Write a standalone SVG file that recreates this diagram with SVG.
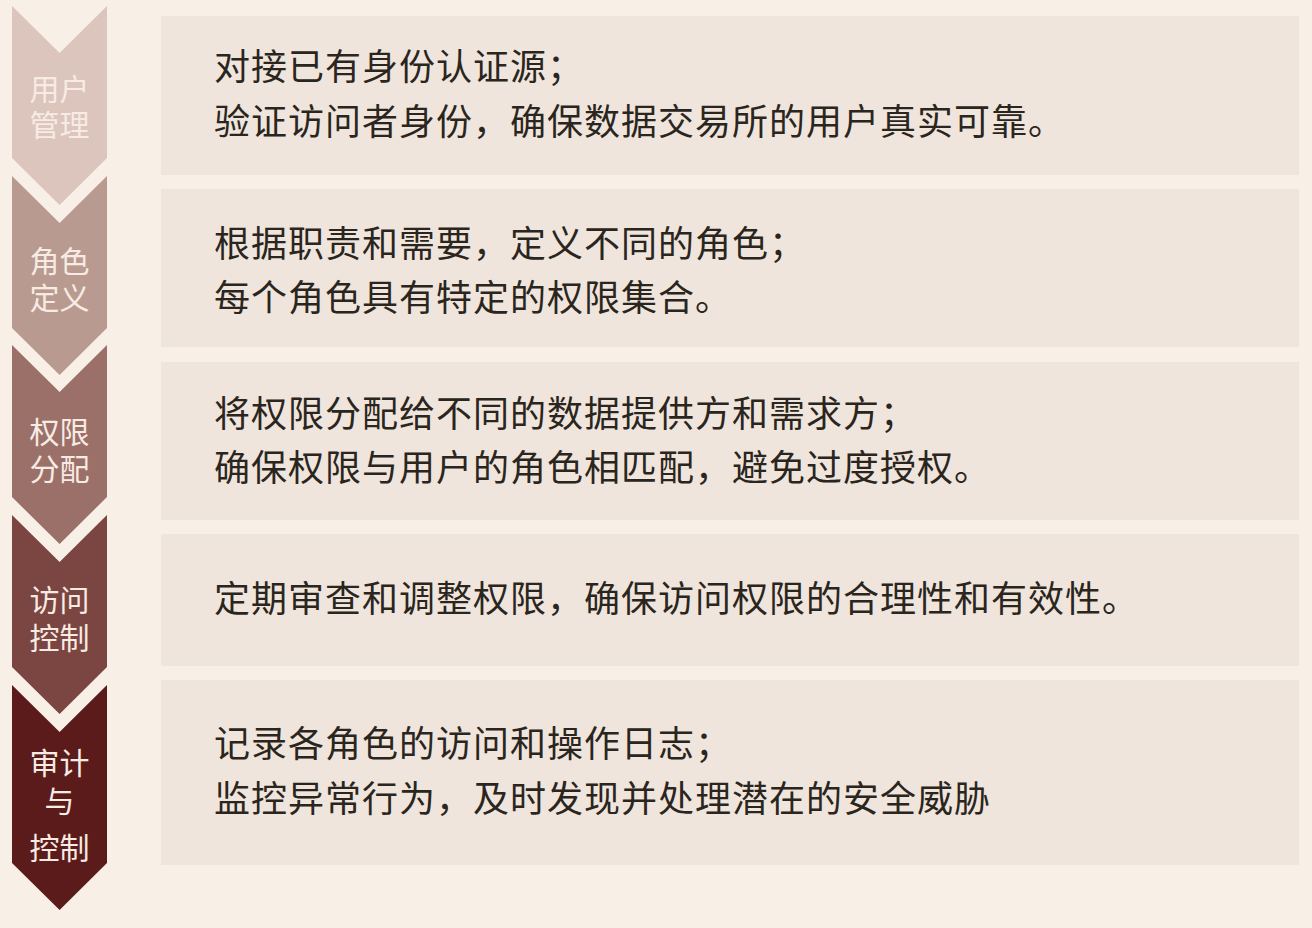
<svg xmlns="http://www.w3.org/2000/svg" width="1312" height="928" viewBox="0 0 1312 928">
<style>
.panel{fill:#efe5dc}
.body{font-family:"Noto Sans CJK SC","Noto Sans",sans-serif;font-size:36px;fill:#2b2520;letter-spacing:1px}
.lab{font-family:"Noto Sans CJK SC","Noto Sans",sans-serif;font-size:30px;fill:#f7ebe3;text-anchor:middle}
</style>
<rect x="0" y="0" width="1312" height="928" fill="#f8efe7"/>
<g id="step1">
<path d="M12,6 L59.6,53 L107,6 L107,158 L59.6,205 L12,158 Z" fill="#dbc5bd"/>
<text class="lab" x="59.6" y="100">用户</text>
<text class="lab" x="59.6" y="136">管理</text>
</g>
<g id="step2">
<path d="M12,176 L59.6,223 L107,176 L107,328 L59.6,375 L12,328 Z" fill="#b99a91"/>
<text class="lab" x="59.6" y="272">角色</text>
<text class="lab" x="59.6" y="309">定义</text>
</g>
<g id="step3">
<path d="M12,345 L59.6,392 L107,345 L107,497 L59.6,544 L12,497 Z" fill="#9b7069"/>
<text class="lab" x="59.6" y="443">权限</text>
<text class="lab" x="59.6" y="480">分配</text>
</g>
<g id="step4">
<path d="M12,515 L59.6,562 L107,515 L107,667 L59.6,714 L12,667 Z" fill="#7b4541"/>
<text class="lab" x="59.6" y="611">访问</text>
<text class="lab" x="59.6" y="649">控制</text>
</g>
<g id="step5">
<path d="M12,685 L59.6,732 L107,685 L107,863 L59.6,910 L12,863 Z" fill="#5c1b1b"/>
<text class="lab" x="59.6" y="774">审计</text>
<text class="lab" x="59.6" y="812">与</text>
<text class="lab" x="59.6" y="859">控制</text>
</g>
<g id="panel1">
<rect class="panel" x="161" y="16" width="1138" height="159"/>
<text class="body" x="214" y="80">对接已有身份认证源；</text>
<text class="body" x="214" y="135">验证访问者身份，确保数据交易所的用户真实可靠。</text>
</g>
<g id="panel2">
<rect class="panel" x="161" y="189" width="1138" height="158"/>
<text class="body" x="214" y="257">根据职责和需要，定义不同的角色；</text>
<text class="body" x="214" y="311">每个角色具有特定的权限集合。</text>
</g>
<g id="panel3">
<rect class="panel" x="161" y="362" width="1138" height="158"/>
<text class="body" x="214" y="427">将权限分配给不同的数据提供方和需求方；</text>
<text class="body" x="214" y="481">确保权限与用户的角色相匹配，避免过度授权。</text>
</g>
<g id="panel4">
<rect class="panel" x="161" y="534" width="1138" height="132"/>
<text class="body" x="214" y="612">定期审查和调整权限，确保访问权限的合理性和有效性。</text>
</g>
<g id="panel5">
<rect class="panel" x="161" y="680" width="1138" height="185"/>
<text class="body" x="214" y="757">记录各角色的访问和操作日志；</text>
<text class="body" x="214" y="812">监控异常行为，及时发现并处理潜在的安全威胁</text>
</g>
<g id="connectors"></g>
</svg>
